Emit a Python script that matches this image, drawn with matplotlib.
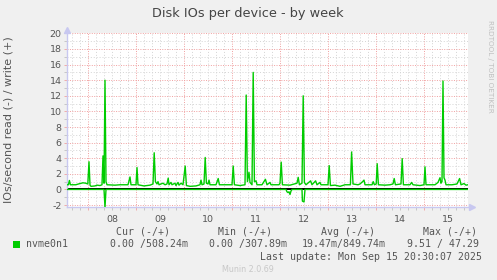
import matplotlib
matplotlib.use("Agg")
import matplotlib.pyplot as plt
from matplotlib.ticker import MultipleLocator, FuncFormatter
from matplotlib.patches import Rectangle

# hours since Mon Sep 08 00:00, write ops/s (+)
write_hours = [
    -10.6, -9.9, -9.4, -8.9, -6.2, -4.2, -2.6, -1.2, -0.2, 0.4, 0.9, 1.4,
    3.4, 4.4, 5.9, 6.9, 7.4, 7.9, 8.4, 8.9, 9.4, 13.4, 15.9, 19.9, 20.9,
    21.4, 23.9, 24.4, 24.9, 27.9, 30.9, 32.4, 33.0, 33.6, 34.4, 34.9, 35.4,
    37.4, 38.4, 39.4, 40.0, 40.4, 41.4, 41.9, 43.4, 43.9, 44.9, 45.4, 46.4,
    47.4, 48.5, 49.1, 50.9, 53.9, 55.9, 56.4, 56.9, 57.9, 58.5, 59.1, 59.9,
    60.4, 60.9, 63.9, 65.0, 65.6, 68.9, 71.9, 72.5, 73.1, 75.9, 78.4, 79.0,
    79.6, 80.4, 80.9, 81.9, 82.5, 83.1, 83.9, 84.4, 86.9, 88.6, 89.4, 90.9,
    91.4, 95.4, 95.9, 96.5, 97.1, 100.9, 102.9, 104.4, 105.0, 105.6, 106.9,
    107.5, 108.1, 108.9, 111.2, 111.9, 113.7, 114.4, 115.9, 116.4, 119.9,
    120.5, 121.1, 123.4, 125.9, 128.4, 131.1, 131.7, 132.4, 134.9, 135.9,
    137.2, 137.9, 138.4, 141.9, 142.5, 143.1, 144.0, 144.5, 145.1, 148.4,
    150.9, 152.4, 153.0, 153.6, 156.4, 157.0, 157.6, 160.9, 161.7, 162.4,
    165.9, 167.9, 168.4, 168.9, 173.4, 174.9, 175.9, 176.4, 176.9, 177.4,
    177.9, 178.4, 178.9, 181.9, 184.4, 185.7, 186.4, 187.9, 188.9, 189.9,
]
write_ops = [
    0.6, 0.6, 1.15, 0.6, 0.6, 0.75, 0.85, 0.8, 0.7, 3.55, 0.55, 0.4,
    0.45, 0.55, 0.5, 0.6, 4.3, 0.8, 14.0, 1.0, 0.6, 0.55, 0.6, 0.6, 1.6,
    0.6, 0.6, 2.8, 0.6, 0.45, 0.55, 0.7, 4.7, 1.0, 0.7, 1.0, 0.6,
    0.8, 0.6, 0.7, 1.45, 0.6, 0.9, 0.6, 0.8, 0.5, 0.9, 0.55, 0.8,
    0.6, 3.0, 0.5, 0.4, 0.45, 0.6, 1.2, 0.6, 0.7, 4.1, 0.8, 0.7,
    1.2, 0.6, 0.6, 1.4, 0.6, 0.6, 0.6, 3.0, 0.6, 0.5, 0.6, 12.1,
    1.0, 2.2, 0.9, 0.6, 15.0, 1.0, 1.1, 0.6, 0.6, 1.3, 0.6, 0.9,
    0.6, 0.6, 0.8, 3.5, 0.6, 0.55, 0.7, 0.8, 1.55, 0.6, 0.8,
    12.0, 0.9, 0.6, 1.1, 0.6, 1.1, 0.6, 0.9, 0.6, 0.6,
    3.05, 0.5, 0.55, 0.4, 0.6, 0.6, 4.8, 0.7, 0.6, 0.7,
    1.0, 1.2, 0.6, 0.6, 1.0, 0.6, 0.7, 3.3, 0.6, 0.55,
    0.6, 0.7, 1.4, 0.6, 0.7, 3.95, 0.6, 0.6, 0.9, 0.6,
    0.5, 0.6, 2.9, 0.6, 0.6, 0.9, 1.5, 0.8, 1.0, 13.9,
    1.5, 1.2, 0.6, 0.6, 0.7, 1.4, 0.6, 0.75, 0.55, 0.6,
]

# read ops/s, drawn below zero
read_hours = [-10.6, 7.9, 8.4, 8.9, 98.9, 99.4, 99.9, 100.4, 100.9, 101.4,
              101.9, 106.9, 107.1, 107.9, 108.4, 189.9]
read_ops = [0, 0, 2.3, 0, 0, 0.3, 0.4, 0.3, 0.65, 0.2,
            0, 0, 1.5, 1.6, 0, 0]

day_first = 8
legend_cols = ["Cur (-/+)", "Min (-/+)", "Avg (-/+)", "Max (-/+)"]
legend_vals = ["0.00 /508.24m", "0.00 /307.89m", "19.47m/849.74m", "9.51 / 47.29"]
device = "nvme0n1"

W, H = 497, 280
bg = "#f0f0f0"
grey = "#555555"
axis_col = "#c8c8f0"

fig = plt.figure(figsize=(W / 100, H / 100), dpi=100, facecolor=bg)
ax = fig.add_axes([67 / W, (H - 207) / H, 401 / W, 174 / H])
ax.set_facecolor("white")

ax.set_xlim(-10.6, 189.9)
ax.set_ylim(-2.25, 20.05)

# grid: red every day / every 2, grey every 4h / every 1
ax.xaxis.set_major_locator(MultipleLocator(24))
ax.xaxis.set_minor_locator(MultipleLocator(4))
ax.yaxis.set_major_locator(MultipleLocator(2))
ax.yaxis.set_minor_locator(MultipleLocator(1))
ax.grid(which="minor", color="#d4d4d4", linestyle=(0, (1, 2)), linewidth=0.7)
ax.grid(which="major", color="#f0a0a0", linestyle=(0, (1, 1.5)), linewidth=0.7)
ax.set_axisbelow(True)

ax.xaxis.set_major_formatter(FuncFormatter(lambda v, p: ""))
ax.xaxis.set_minor_formatter(FuncFormatter(
    lambda v, p: "%02d" % (day_first + int(v // 24)) if round(v) % 24 == 12 else ""))
ax.yaxis.set_major_formatter(FuncFormatter(lambda v, p: "%d" % v))

ax.tick_params(axis="both", which="both", labelsize=6.8, labelcolor=grey,
               length=2, width=0.6)
ax.tick_params(axis="x", which="major", color="#f0a0a0")
ax.tick_params(axis="x", which="minor", color="#c0c0c0", pad=3.5)
ax.tick_params(axis="y", which="major", color="#f0a0a0", pad=2)
ax.tick_params(axis="y", which="minor", color="#c0c0c0")

for s in ("top", "right"):
    ax.spines[s].set_visible(False)
for s in ("left", "bottom"):
    ax.spines[s].set_color(axis_col)
    ax.spines[s].set_linewidth(1.0)
ax.plot([0], [1.02], marker="^", ms=4, color=axis_col, transform=ax.transAxes,
        clip_on=False)
ax.plot([1.01], [0], marker=">", ms=4, color=axis_col, transform=ax.transAxes,
        clip_on=False)

ax.axhline(0, color="black", linewidth=1.4, zorder=2)
ax.plot(write_hours, write_ops, color="#00cc00", linewidth=1.0, zorder=3)
ax.plot(read_hours, [-v for v in read_ops], color="#00cc00", linewidth=1.0, zorder=3)

fig.text(9 / W, 1 - 120 / H, "IOs/second read (-) / write (+)", rotation=90,
         ha="center", va="center", fontsize=8, color=grey)

fig.text(248 / W, 1 - 13.5 / H, "Disk IOs per device - by week", ha="center",
         va="center", fontsize=9.3, color="#444444")
fig.text(490 / W, 1 - 66 / H, "RRDTOOL / TOBI OETIKER", rotation=-90, ha="center",
         va="center", fontsize=5.2, color="#c0c0c0")

# legend block
mono = "DejaVu Sans Mono"
col_x = [116, 218, 321, 423]
val_x = [110, 209, 302, 407]
for cx, t in zip(col_x, legend_cols):
    fig.text(cx / W, 1 - 232 / H, t, ha="left", va="center", family=mono,
             fontsize=7.1, color=grey)
fig.patches.append(Rectangle((13 / W, 1 - 248 / H), 7 / W, 7 / H,
                             transform=fig.transFigure, facecolor="#00cc00",
                             edgecolor="none"))
fig.text(26 / W, 1 - 244 / H, device, ha="left", va="center", family=mono,
         fontsize=7.1, color=grey)
for vx, t in zip(val_x, legend_vals):
    fig.text(vx / W, 1 - 244 / H, t, ha="left", va="center", family=mono,
             fontsize=7.1, color=grey)
fig.text(482 / W, 1 - 257 / H, "Last update: Mon Sep 15 20:30:07 2025", ha="right",
         va="center", family=mono, fontsize=7.1, color=grey)
fig.text(248 / W, 1 - 269 / H, "Munin 2.0.69", ha="center", va="center",
         fontsize=5.8, color="#c8c8c8")

fig.savefig("out.png", dpi=100, facecolor=bg)
